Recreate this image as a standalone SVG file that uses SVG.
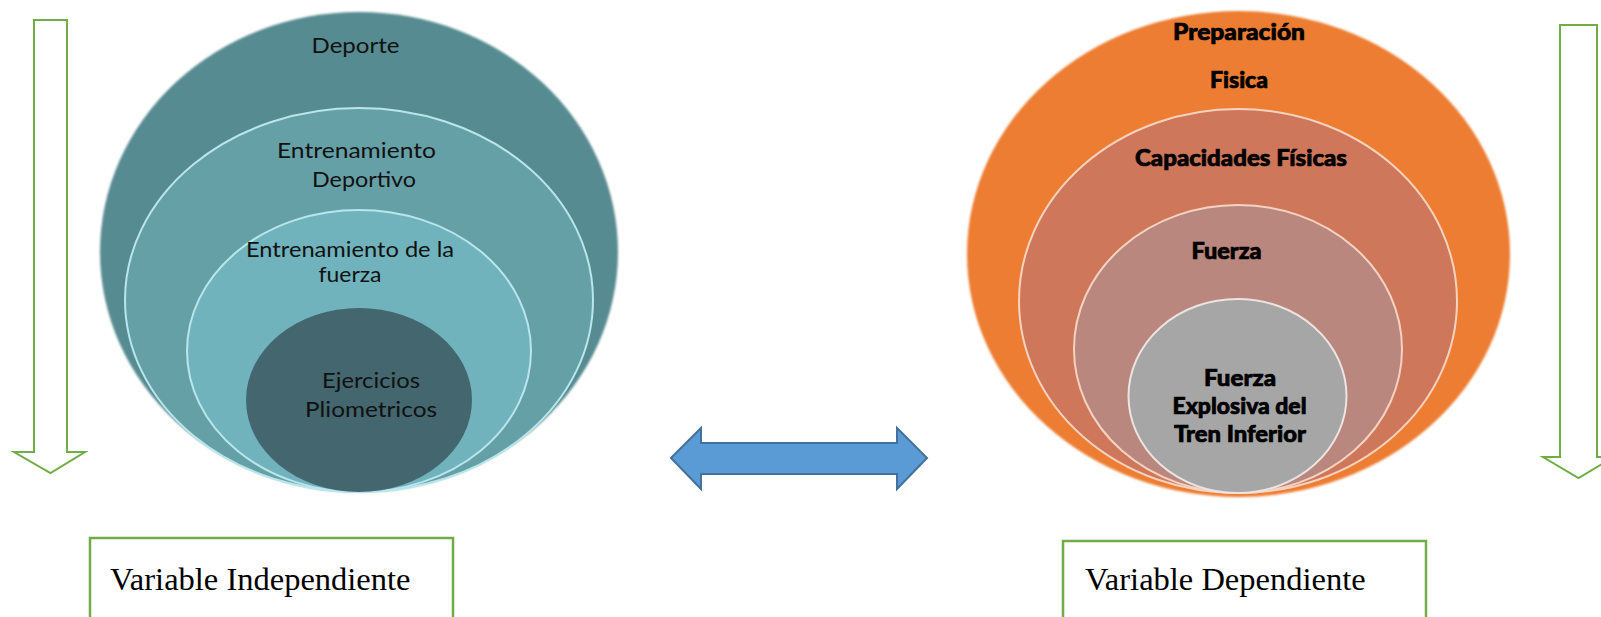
<svg xmlns="http://www.w3.org/2000/svg" width="1601" height="617" viewBox="0 0 1601 617">
  <defs>
    <style>
      .lbl { font-family: Lato, "Open Sans", "Liberation Sans", sans-serif; font-size: 21px; fill: #111; text-anchor: middle; }
      .bold { font-family: Lato, "Open Sans", "Liberation Sans", sans-serif; font-size: 23px; font-weight: 900; fill: #000; stroke: #000; stroke-width: 0.7; text-anchor: middle; }
      .var { font-family: "Liberation Serif", "Times New Roman", serif; font-size: 32.5px; fill: #000; }
      .down { fill: #fff; stroke: #70AD47; stroke-width: 2; }
      .box { fill: #fff; stroke: #70AD47; stroke-width: 2.5; }
      .teal { stroke: #B9E6EC; stroke-width: 2; }
      .warm { stroke: #F6D3C0; stroke-width: 2; }
    </style>
    <filter id="soft" x="-5%" y="-5%" width="110%" height="110%">
      <feGaussianBlur stdDeviation="1.2"/>
    </filter>
  </defs>

  <!-- vertical arrows at both sides -->
  <g id="arrow-left">
    <path class="down" d="M34,20 H67 V452 H85 L50.5,473 L14,452 H34 Z"/>
  </g>
  <g id="arrow-right">
    <path class="down" d="M1560,25 H1597 V457 H1614 L1578.5,478 L1543,457 H1560 Z"/>
  </g>

  <!-- nested ellipses: independent variable -->
  <g id="deporte">
    <ellipse cx="359" cy="252" rx="259" ry="240" fill="#578B91" filter="url(#soft)"/>
    <text class="lbl" x="355.5" y="53" textLength="88" lengthAdjust="spacingAndGlyphs">Deporte</text>
  </g>
  <g id="entrenamiento-deportivo">
    <ellipse class="teal" cx="359" cy="300" rx="234" ry="192" fill="#65A0A7"/>
    <text class="lbl" x="356.5" y="158" textLength="159" lengthAdjust="spacingAndGlyphs">Entrenamiento</text>
    <text class="lbl" x="364" y="187" textLength="104" lengthAdjust="spacingAndGlyphs">Deportivo</text>
  </g>
  <g id="entrenamiento-fuerza">
    <ellipse class="teal" cx="359" cy="351" rx="172" ry="141" fill="#70B3BC"/>
    <text class="lbl" x="350" y="257" textLength="208" lengthAdjust="spacingAndGlyphs">Entrenamiento de la</text>
    <text class="lbl" x="350" y="282" textLength="63" lengthAdjust="spacingAndGlyphs">fuerza</text>
  </g>
  <g id="ejercicios-pliometricos">
    <ellipse cx="359" cy="400" rx="113" ry="92" fill="#43666F"/>
    <text class="lbl" x="371" y="388" textLength="98" lengthAdjust="spacingAndGlyphs">Ejercicios</text>
    <text class="lbl" x="371" y="417" textLength="132" lengthAdjust="spacingAndGlyphs">Pliometricos</text>
  </g>

  <!-- nested ellipses: dependent variable -->
  <g id="preparacion-fisica">
    <ellipse cx="1238.5" cy="254" rx="271.5" ry="243" fill="#ED7D31" filter="url(#soft)"/>
    <text class="bold" x="1239" y="40" textLength="132" lengthAdjust="spacingAndGlyphs">Preparación</text>
    <text class="bold" x="1239" y="88" textLength="58" lengthAdjust="spacingAndGlyphs">Fisica</text>
  </g>
  <g id="capacidades-fisicas">
    <ellipse class="warm" cx="1238" cy="301" rx="219" ry="192" fill="#CF775A"/>
    <text class="bold" x="1241" y="166" textLength="212" lengthAdjust="spacingAndGlyphs">Capacidades Físicas</text>
  </g>
  <g id="fuerza">
    <ellipse class="warm" cx="1238" cy="349" rx="164" ry="144" fill="#B9877D"/>
    <text class="bold" x="1226.5" y="259" textLength="70" lengthAdjust="spacingAndGlyphs">Fuerza</text>
  </g>
  <g id="fuerza-explosiva">
    <ellipse cx="1237.5" cy="396" rx="109" ry="97" fill="#A6A6A6" stroke="#ECE4E0" stroke-width="2"/>
    <text class="bold" x="1240" y="386" textLength="72" lengthAdjust="spacingAndGlyphs">Fuerza</text>
    <text class="bold" x="1239.5" y="414" textLength="134" lengthAdjust="spacingAndGlyphs">Explosiva del</text>
    <text class="bold" x="1240" y="442" textLength="132" lengthAdjust="spacingAndGlyphs">Tren Inferior</text>
  </g>

  <!-- link between the two variables -->
  <g id="connectors">
    <path d="M671,458 L701,428 V443 H897 V428 L927,458 L897,489 V474 H701 V489 Z" fill="#5B9BD5" stroke="#41719C" stroke-width="2" stroke-linejoin="miter"/>
  </g>

  <!-- variable labels -->
  <g id="variable-independiente">
    <rect class="box" x="90" y="538" width="363" height="100"/>
    <text class="var" x="110" y="590">Variable Independiente</text>
  </g>
  <g id="variable-dependiente">
    <rect class="box" x="1063" y="541" width="363" height="100"/>
    <text class="var" x="1085" y="590">Variable Dependiente</text>
  </g>
</svg>
